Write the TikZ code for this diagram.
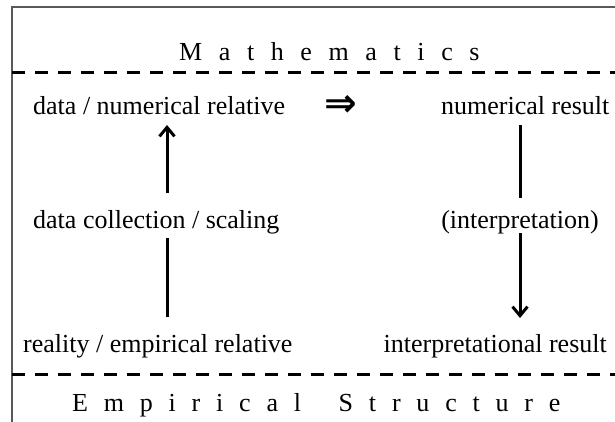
\documentclass[tikz,border=0pt]{standalone}
\usepackage{fontspec}
\setmainfont{Liberation Serif}
\newfontfamily\symfont{DejaVu Sans}
\usetikzlibrary{arrows.meta}
\newcommand{\lgap}{\hspace{16.6pt}}
\newcommand{\lgapb}{\hspace{15.8pt}}
\begin{document}
\begin{tikzpicture}[x=1pt,y=-1pt,
  lbl/.style={inner sep=0pt,font=\fontsize{26}{30}\selectfont},
  symb/.style={inner sep=0pt,font=\symfont\bfseries\fontsize{39}{39}\selectfont},
  frameline/.style={draw=black!65,line width=1.5pt},
  sep/.style={line width=3pt,dash pattern=on 13pt off 10pt},
  conn/.style={line width=3pt},
  arr/.style={conn,-{Straight Barb[length=9pt,width=15pt,line width=3pt]}}]
\useasboundingbox (0,0) rectangle (615,421);
% frame
\coordinate (tl) at (12,7);
\coordinate (tr) at (616,7);
\coordinate (bl) at (12,422);
\draw[frameline] (tr) -- (tl) -- (bl);
% separators
\coordinate (s1a) at (12,72);
\coordinate (s1b) at (616,72);
\coordinate (s2a) at (12,374);
\coordinate (s2b) at (616,374);
\draw[sep] (s1a) -- (s1b);
\draw[sep] (s2a) -- (s2b);
% titles
\node[lbl,anchor=base west] (math) at (179,60) {M\lgap a\lgap t\lgap h\lgap e\lgap m\lgap a\lgap t\lgap i\lgap c\lgap s};
\node[lbl,anchor=base west] (emp) at (72,411) {E\lgapb m\lgapb p\lgapb i\lgapb r\lgapb i\lgapb c\lgapb a\lgapb l\lgapb\hspace{6pt}\lgapb S\lgapb t\lgapb r\lgapb u\lgapb c\lgapb t\lgapb u\lgapb r\lgapb e};
% row texts
\node[lbl,anchor=base west] (data) at (33,114) {data / numerical relative};
\node[symb] (impl) at (341,106) {⇒};
\node[lbl,anchor=base west] (numres) at (441,114) {numerical result};
\node[lbl,anchor=base west] (coll) at (33,228) {data collection / scaling};
\node[lbl,anchor=base] (interp) at (520,228) {(interpretation)};
\node[lbl,anchor=base west] (real) at (23,352) {reality / empirical relative};
\node[lbl,anchor=base east] (intres) at (607,352) {interpretational result};
% connectors
\coordinate (l1) at (167,317);
\coordinate (l2) at (167,238);
\coordinate (l3) at (167,193);
\coordinate (l4) at (167,125);
\draw[conn] (l1) -- (l2);
\draw[arr] (l3) -- (l4);
\coordinate (r1) at (520,125);
\coordinate (r2) at (520,198);
\coordinate (r3) at (520,233);
\coordinate (r4) at (520,318);
\draw[conn] (r1) -- (r2);
\draw[arr] (r3) -- (r4);
\end{tikzpicture}
\end{document}
